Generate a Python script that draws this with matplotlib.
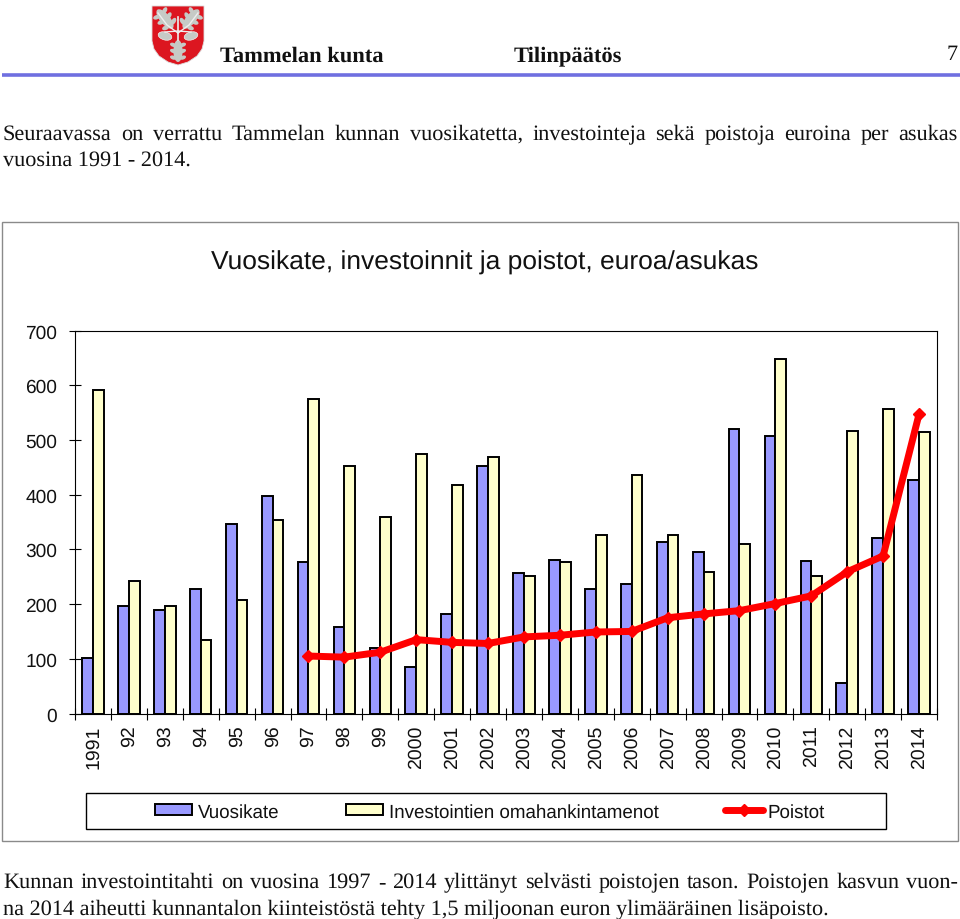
import numpy as np
import matplotlib
matplotlib.use('Agg')
import matplotlib.pyplot as plt
from matplotlib.patches import Polygon, Ellipse, Rectangle

years = ['1991', '92', '93', '94', '95', '96', '97', '98', '99', '2000', '2001', '2002',
         '2003', '2004', '2005', '2006', '2007', '2008', '2009', '2010', '2011', '2012', '2013', '2014']
vuosikate = [102, 196, 190, 228, 346, 398, 277, 158, 120, 85, 182, 452,
             257, 281, 227, 236, 314, 295, 520, 507, 278, 56, 321, 427]
investoinnit = [592, 242, 196, 135, 208, 353, 575, 452, 360, 475, 418, 469,
                252, 276, 326, 435, 327, 258, 310, 647, 252, 517, 557, 515]
poistot_years = years[6:]
poistot = [105, 103, 112, 135, 130, 128, 140, 143, 149, 150, 175, 182, 188, 201, 215, 259, 288, 547]

title = 'Vuosikate, investoinnit ja poistot, euroa/asukas'
intro = ['Seuraavassa on verrattu Tammelan kunnan vuosikatetta, investointeja sekä poistoja euroina per asukas',
         'vuosina 1991 - 2014.']
outro = ['Kunnan investointitahti on vuosina 1997 - 2014 ylittänyt selvästi poistojen tason. Poistojen kasvun vuon-',
         'na 2014 aiheutti kunnantalon kiinteistöstä tehty 1,5 miljoonan euron ylimääräinen lisäpoisto.']

plt.rcParams['text.hinting'] = 'no_hinting'
SANS = 'Liberation Sans'
SERIF = 'Liberation Serif'
W, H = 960, 920

fig = plt.figure(figsize=(W / 100, H / 100), dpi=100, facecolor='white')

# page layer in pixel coordinates
page = fig.add_axes([0, 0, 1, 1], zorder=0)
page.set_xlim(0, W)
page.set_ylim(H, 0)
page.axis('off')

page.plot([2, 960], [76, 76], color='#6f6fe0', lw=2.6, solid_capstyle='butt')
page.add_patch(Rectangle((2, 223), 956, 619, fc='white', ec='#8a8a8a', lw=1))
page.add_patch(Rectangle((86, 794), 800, 36, fc='white', ec='black', lw=1))

# vaakuna, just rough shapes
page.add_patch(Polygon([(152, 7), (204, 7), (204, 42), (202, 50), (197, 57), (188, 63), (178, 66),
                        (168, 63), (159, 57), (154, 50), (152, 42)],
                       fc='#dc1620', ec='#dddddd', lw=0.6))


def leaf(cx, cy, length, angle):
    # oak leaf: a middle blade with small lobes on both sides
    a = np.radians(angle)
    ux, uy = np.sin(a), -np.cos(a)
    vx, vy = np.cos(a), np.sin(a)
    page.add_patch(Ellipse((cx, cy), length * 0.42, length, angle=angle, fc='#c6cac6', ec='none'))
    for k in (-0.3, 0, 0.28):
        for s in (-1, 1):
            ox = cx + ux * k * length + vx * s * length * 0.22
            oy = cy + uy * k * length + vy * s * length * 0.22
            page.add_patch(Ellipse((ox, oy), length * 0.3, length * 0.18, angle=angle - s * 20,
                                   fc='#c6cac6', ec='none'))


leaf(165, 20, 24, -40)
leaf(191, 20, 24, 40)
leaf(178, 52, 22, 0)
page.add_patch(Ellipse((165, 37), 14, 8, angle=15, fc='#c6cac6', ec='white', lw=0.4))
page.add_patch(Ellipse((191, 37), 14, 8, angle=-15, fc='#c6cac6', ec='white', lw=0.4))
page.plot([178, 178], [41, 18], color='#eeeeee', lw=1.2)
page.plot([178, 167, 158], [34, 26, 14], color='#eeeeee', lw=1)
page.plot([178, 189, 198], [34, 26, 14], color='#eeeeee', lw=1)
page.plot([165, 178, 191], [33, 32, 33], color='#eeeeee', lw=1)

page.text(220, 56, 'Tammelan kunta', family=SERIF, weight='bold', fontsize=16.2, va='center', color='#111111')
page.text(514, 56, 'Tilinpäätös', family=SERIF, weight='bold', fontsize=16.2, va='center', color='#111111')
page.text(958, 55, '7', family=SERIF, fontsize=16, va='center', ha='right', color='#111111')


def text_line(y, line, x0=3, x1=None, size=16):
    # without x1 the line stays one text, with x1 the words are placed one by one to justify it
    if x1 is None:
        page.text(x0, y, line, family=SERIF, fontsize=size, va='baseline', color='#111111')
        return
    words = line.split(' ')
    renderer = fig.canvas.get_renderer()
    items = [page.text(x0, y, w, family=SERIF, fontsize=size, va='baseline', color='#111111') for w in words]
    widths = [t.get_window_extent(renderer).width for t in items]
    space = (x1 - x0 - sum(widths)) / (len(words) - 1)
    x = x0
    for t, w in zip(items, widths):
        t.set_x(x)
        x += w + space


text_line(140, intro[0], x1=958)
text_line(166, intro[1])
text_line(888, outro[0], x1=958)
text_line(915, outro[1])
page.text(484.5, 263, title, family=SANS, fontsize=19, ha='center', va='center', color='#111111')

# chart
ax = fig.add_axes([75 / W, (H - 714.5) / H, 862 / W, 383 / H], zorder=1)
ax.patch.set_alpha(0)
x = np.arange(len(years))
bw = 0.3
b1 = ax.bar(x - bw, vuosikate, bw, align='edge', color='#9999ff', edgecolor='black', lw=1.4, label='Vuosikate')
b2 = ax.bar(x, investoinnit, bw, align='edge', color='#ffffcc', edgecolor='black', lw=1.4,
            label='Investointien omahankintamenot')
px = [years.index(y) for y in poistot_years]
l1, = ax.plot(px, poistot, color='#ff0000', lw=5, marker='D', ms=6.5, label='Poistot',
              solid_joinstyle='round', solid_capstyle='round', zorder=5)

ax.set_xlim(-0.5, len(years) - 0.5)
ax.set_ylim(0, 700)
ax.set_yticks(range(0, 701, 100))
ax.set_xticks(np.arange(len(years) + 1) - 0.5)
ax.set_xticklabels([])
ax.set_xticks(x, minor=True)
ax.set_xticklabels(years, minor=True, rotation=90, family=SANS, fontsize=14, color='#111111')
ax.tick_params(axis='x', which='major', direction='inout', length=8, width=0.8)
ax.tick_params(axis='x', which='minor', length=0, pad=8)
ax.tick_params(axis='y', direction='inout', length=8.5, width=0.8, pad=8.6, labelsize=13.8)
for t in ax.get_yticklabels():
    t.set_family(SANS)
    t.set_color('#111111')
for s in ax.spines.values():
    s.set_linewidth(0.8)

leg = fig.legend(handles=[b1, b2, l1], ncol=3, loc='center', bbox_to_anchor=(490 / W, (H - 812.5) / H),
                 frameon=False, prop={'family': SANS, 'size': 13.5}, handlelength=2.0, handleheight=0.5,
                 handletextpad=0.28, columnspacing=3.55)
for t in leg.get_texts():
    t.set_color('#111111')

fig.savefig('out.png', dpi=100)
